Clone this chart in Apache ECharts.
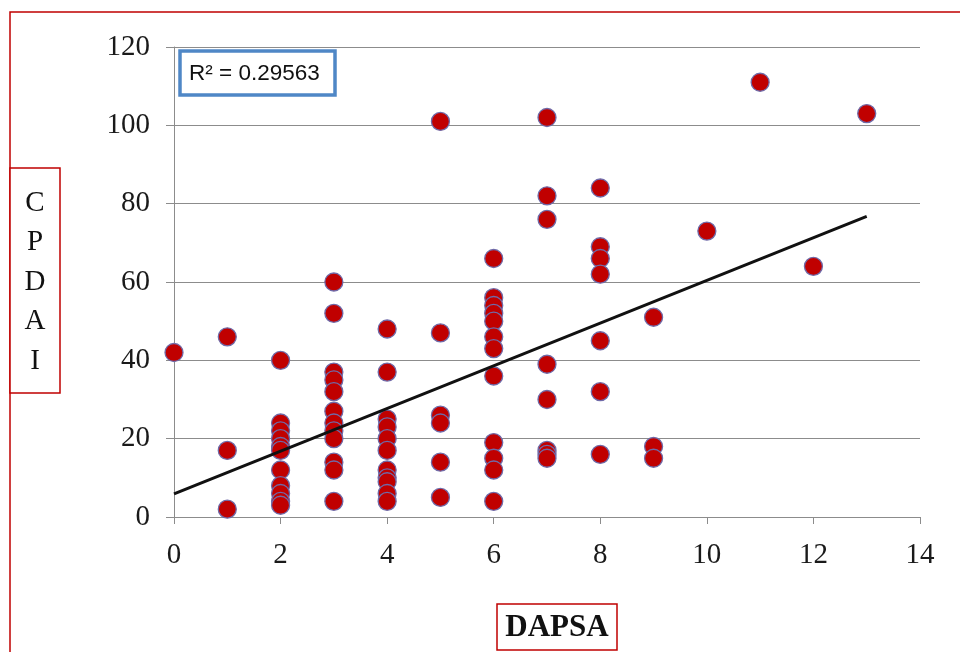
<!DOCTYPE html>
<html><head><meta charset="utf-8">
<script src="https://cdn.jsdelivr.net/npm/echarts@6/dist/echarts.min.js"></script>
<style>html,body{margin:0;padding:0;background:#fff}#c{width:960px;height:652px}</style>
</head><body><div id="c"></div>
<script>
// DAPSA value -> list of CPDAI values
const dapsaX = [0, 1, 2, 3, 4, 5, 6, 7, 8, 9, 10, 11, 12, 13];
const cpdaiByX = [
  [42],
  [46, 17, 2],
  [40, 24, 22, 20, 18, 17, 12, 8, 6, 4, 3],
  [60, 52, 37, 35, 32, 27, 24, 22, 20, 14, 12, 4],
  [48, 37, 25, 23, 20, 17, 12, 10, 9, 6, 4],
  [101, 47, 26, 24, 14, 5],
  [66, 56, 54, 52, 50, 46, 43, 36, 19, 15, 12, 4],
  [102, 82, 76, 39, 30, 17, 16, 15],
  [84, 69, 66, 62, 45, 32, 16],
  [51, 18, 15],
  [73],
  [111],
  [64],
  [103]
];
const xTicks = [0, 2, 4, 6, 8, 10, 12, 14];
const yTicks = [0, 20, 40, 60, 80, 100, 120];
// linear trend line as drawn in the reference
const trendIntercept = 5.9;
const trendSlope = 5.45;
const trendRange = [0, 13];
const rSquaredText = 'R² = 0.29563';
const xTitle = 'DAPSA';
const yTitle = 'CPDAI';

const points = [];
dapsaX.forEach((x, i) => cpdaiByX[i].forEach(v => points.push([x, v])));
const trend = trendRange.map(x => [x, trendIntercept + trendSlope * x]);

const chart = echarts.init(document.getElementById('c'), null, {renderer: 'canvas'});
const serif = 'Liberation Serif';
chart.setOption({
  animation: false,
  backgroundColor: '#fff',
  grid: {left: 174, right: 40, top: 47, bottom: 135, containLabel: false},
  xAxis: {
    type: 'value', min: 0, max: 14, interval: 2,
    axisLine: {show: true, lineStyle: {color: '#8c8c8c', width: 1}},
    axisTick: {show: true, length: 7, lineStyle: {color: '#8c8c8c'}},
    axisLabel: {fontFamily: serif, fontSize: 29, color: '#1a1a1a', margin: 24,
      formatter: v => xTicks.includes(v) ? String(v) : ''},
    splitLine: {show: false}
  },
  yAxis: {
    type: 'value', min: 0, max: 120, interval: 20,
    axisLine: {show: true, lineStyle: {color: '#8c8c8c', width: 1}},
    axisTick: {show: true, length: 8, lineStyle: {color: '#8c8c8c'}},
    axisLabel: {fontFamily: serif, fontSize: 29, color: '#1a1a1a', margin: 24,
      formatter: v => yTicks.includes(v) ? String(v) : ''},
    splitLine: {show: true, lineStyle: {color: '#8c8c8c', width: 1}}
  },
  series: [
    {
      type: 'line', data: trend, symbol: 'none', z: 3,
      lineStyle: {color: '#111', width: 3}
    },
    {
      type: 'scatter', data: points, symbol: 'circle', symbolSize: 18, z: 2,
      itemStyle: {color: '#c00000', opacity: 1, borderColor: '#6f6aa8', borderWidth: 1.3}
    }
  ],
  graphic: [
    {type: 'rect', shape: {x: 10, y: 12, width: 1200, height: 1200}, silent: true,
      style: {fill: 'none', stroke: '#c00000', lineWidth: 1.5}, z: -10},
    {type: 'rect', shape: {x: 180, y: 51, width: 155, height: 44},
      style: {fill: '#fff', stroke: '#4f87c6', lineWidth: 3.5}, z: 10},
    {type: 'text', x: 189, y: 74, z: 11,
      style: {text: rSquaredText, fontFamily: 'Liberation Sans', fontSize: 22.5, fill: '#111', verticalAlign: 'middle'}},
    {type: 'rect', shape: {x: 10, y: 168, width: 50, height: 225},
      style: {fill: '#fff', stroke: '#c00000', lineWidth: 1.5}, z: 10},
    {type: 'text', x: 35, y: 282, z: 11,
      style: {text: yTitle.split('').join('\n'), fontFamily: serif, fontSize: 29, lineHeight: 39.5,
        fill: '#111', align: 'center', verticalAlign: 'middle'}},
    {type: 'rect', shape: {x: 497, y: 604, width: 120, height: 46},
      style: {fill: '#fff', stroke: '#c00000', lineWidth: 1.5}, z: 10},
    {type: 'text', x: 557, y: 628, z: 11,
      style: {text: xTitle, fontFamily: serif, fontSize: 31, fontWeight: 'bold',
        fill: '#111', align: 'center', verticalAlign: 'middle'}}
  ]
});
</script></body></html>
